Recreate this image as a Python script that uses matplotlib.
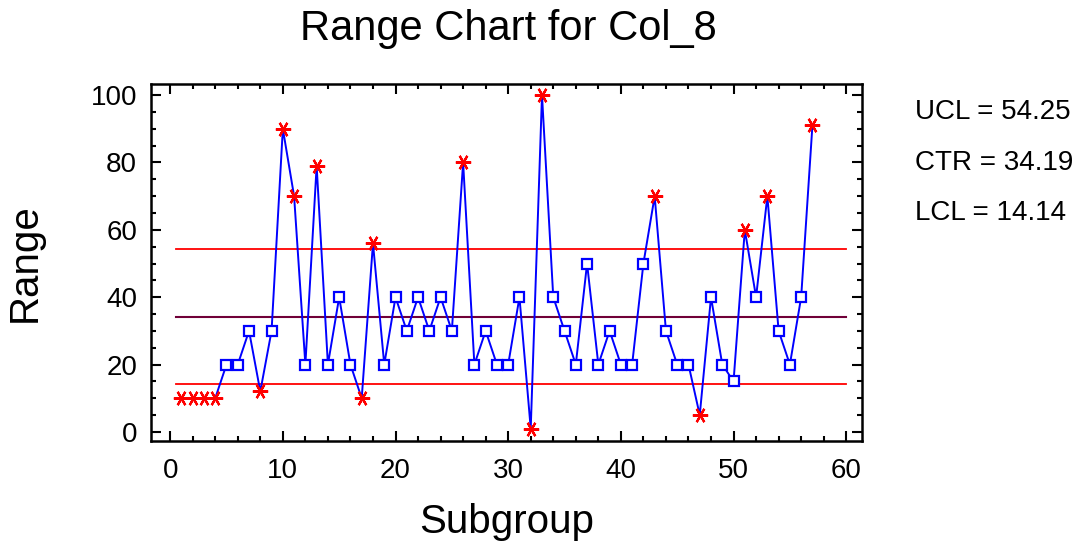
import matplotlib
matplotlib.use("Agg")
import matplotlib.pyplot as plt
from matplotlib.ticker import MultipleLocator
import numpy as np

plt.rcParams['font.family'] = ['Liberation Sans', 'DejaVu Sans']

subgroups = list(range(1, 58))
ranges = [10, 10, 10, 10, 20, 20, 30, 12, 30, 90,
          70, 20, 79, 20, 40, 20, 10, 56, 20, 40,
          30, 40, 30, 40, 30, 80, 20, 30, 20, 20,
          40, 1, 100, 40, 30, 20, 50, 20, 30, 20,
          20, 50, 70, 30, 20, 20, 5, 40, 20, 15,
          60, 40, 70, 30, 20, 40, 91]
UCL, CTR, LCL = 54.25, 34.19, 14.14
limit_labels = ["UCL = 54.25", "CTR = 34.19", "LCL = 14.14"]

fig = plt.figure(figsize=(10.87, 5.41), dpi=100)
ax = fig.add_axes([151/1087, 1-441/541, (862-151)/1087, (441-84)/541])

x = np.array(subgroups)
y = np.array(ranges)
ax.plot([0.5, 60], [UCL, UCL], color='#ff0000', lw=1.3, zorder=1)
ax.plot([0.5, 60], [LCL, LCL], color='#ff0000', lw=1.3, zorder=1)
ax.plot([0.5, 60], [CTR, CTR], color='#700038', lw=1.5, zorder=1)

ax.plot(x, y, color='#0000ff', lw=1.4, zorder=2)
out = (y > UCL) | (y < LCL)
ax.plot(x[~out], y[~out], ls='none', marker='s', ms=7.5, mfc='white',
        mec='#0000ff', mew=1.6, zorder=3)
ax.plot(x[out], y[out], ls='none', marker=(6, 2, 90), ms=11, mec='#ff0000',
        mew=1.6, zorder=3)

ax.set_xlim(-1.7, 61.4)
ax.set_ylim(-2.7, 103.3)
ax.xaxis.set_major_locator(MultipleLocator(10))
ax.xaxis.set_minor_locator(MultipleLocator(2))
ax.yaxis.set_major_locator(MultipleLocator(20))
ax.yaxis.set_minor_locator(MultipleLocator(5))
ax.tick_params(which='both', direction='in', top=True, right=True, width=1.5)
ax.tick_params(which='major', length=7, labelsize=20)
ax.tick_params(which='minor', length=3.5)
ax.tick_params(axis='x', pad=12)
ax.tick_params(axis='y', pad=10)
for s in ax.spines.values():
    s.set_linewidth(1.8)

ax.set_xlabel("Subgroup", fontsize=29, labelpad=14)
ax.set_ylabel("Range", fontsize=29, labelpad=34)
fig.text(508/1087, 1-29/541, "Range Chart for Col_8", fontsize=30,
         ha='center', va='center')
for i, lab in enumerate(limit_labels):
    fig.text(915/1087, 1-(112+50.5*i)/541, lab, fontsize=20, ha='left', va='center')

fig.savefig("out.png", dpi=100)
